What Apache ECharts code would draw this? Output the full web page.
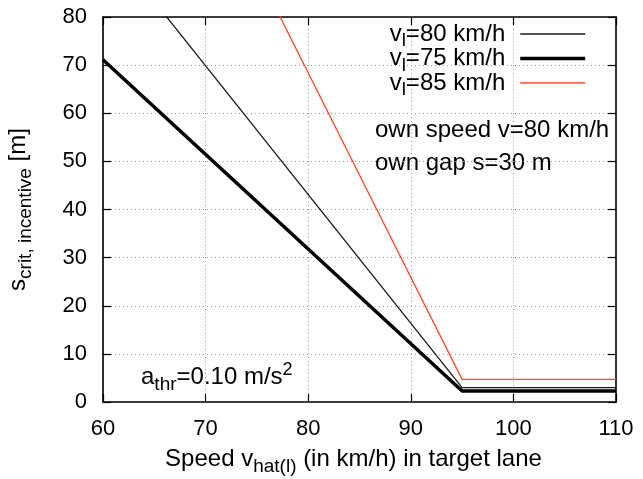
<!DOCTYPE html>
<html>
<head>
<meta charset="utf-8">
<script src="https://cdn.jsdelivr.net/npm/echarts@6/dist/echarts.min.js"></script>
<style>
  html, body { margin: 0; padding: 0; background: #fff; }
  #chart { width: 643px; height: 479px; }
</style>
</head>
<body>
<div id="chart"></div>
<script>
// Speed of the leader in the target lane (km/h), one curve each
const leaderSpeeds = [80, 75, 85];
// Target-lane speed samples (km/h): start, kink, end
const targetSpeeds = [60, 95, 110];
// Critical incentive gap (m) at those speeds
const gap80 = [96.6, 3.0, 3.0];
const gap75 = [71.1, 2.3, 2.3];
const gap85 = [153.3, 4.7, 4.7];
// Axis ticks
const xTicks = [60, 70, 80, 90, 100, 110];
const yTicks = [0, 10, 20, 30, 40, 50, 60, 70, 80];

const FONT = 'Liberation Sans';
const rich = {
  m: { fontFamily: FONT, fontSize: 24, color: '#000' },
  s: { fontFamily: FONT, fontSize: 19, color: '#000', padding: [14, 0, 0, 0] },
  u: { fontFamily: FONT, fontSize: 18, color: '#000', padding: [0, 0, 15, 0] }
};

const pairs = ys => targetSpeeds.map((x, i) => [x, ys[i]]);
const seriesData = [gap80, gap75, gap85];
const lineStyles = [
  { color: '#1a1a1a', width: 1.3 },
  { color: '#000000', width: 3.5 },
  { color: '#f4502a', width: 1.3 }
];

const chart = echarts.init(document.getElementById('chart'), null, { renderer: 'canvas' });

const tickStyle = { show: true, inside: true, length: 8, lineStyle: { color: '#000', width: 1.2 } };
const frameLine = { show: true, onZero: false, lineStyle: { color: '#000', width: 1.6 } };
const gridLine = { show: true, lineStyle: { color: '#9a9a9a', width: 1, type: [1, 3] } };

chart.setOption({
  animation: false,
  backgroundColor: '#fff',
  grid: { left: 103, right: 27, top: 17, bottom: 77, containLabel: false, outerBoundsMode: 'none' },
  xAxis: [
    {
      type: 'value', min: xTicks[0], max: xTicks[xTicks.length - 1], interval: 10,
      position: 'bottom',
      axisLine: frameLine, axisTick: tickStyle, splitLine: gridLine,
      axisLabel: { color: '#000', fontFamily: FONT, fontSize: 22, margin: 16 },
      name: '{m|Speed v}{s|hat(l)}{m| (in km/h) in target lane}',
      nameLocation: 'middle', nameGap: 41,
      nameTextStyle: { rich: rich, padding: [0, 12, 0, 0] }
    },
    {
      type: 'value', min: xTicks[0], max: xTicks[xTicks.length - 1], interval: 10,
      position: 'top',
      axisLine: frameLine, axisTick: tickStyle, splitLine: { show: false },
      axisLabel: { show: false }
    }
  ],
  yAxis: [
    {
      type: 'value', min: yTicks[0], max: yTicks[yTicks.length - 1], interval: 10,
      position: 'left',
      axisLine: frameLine, axisTick: tickStyle, splitLine: gridLine,
      axisLabel: { color: '#000', fontFamily: FONT, fontSize: 22, margin: 16 },
      name: '{m|s}{s|crit, incentive}{m| [m]}',
      nameLocation: 'middle', nameGap: 68,
      nameTextStyle: { rich: rich }
    },
    {
      type: 'value', min: yTicks[0], max: yTicks[yTicks.length - 1], interval: 10,
      position: 'right',
      axisLine: frameLine, axisTick: tickStyle, splitLine: { show: false },
      axisLabel: { show: false }
    }
  ],
  legend: {
    orient: 'vertical',
    right: 51, top: 17,
    align: 'right',
    itemWidth: 65, itemHeight: 14, itemGap: -4,
    selectedMode: false,
    formatter: name => {
      const v = name.split('=')[1];
      return '{m|v}{s|l}{m|=' + v + '}';
    },
    textStyle: { rich: rich, padding: [0, 10, 0, 0] },
    data: leaderSpeeds.map((v, i) => ({
      name: 'vl=' + v + ' km/h',
      itemStyle: { opacity: 0 },
      lineStyle: { color: lineStyles[i].color, width: lineStyles[i].width }
    }))
  },
  graphic: [
    {
      type: 'text', left: 375, top: 118,
      style: { text: 'own speed v=80 km/h', font: '24px ' + FONT, fill: '#000' }
    },
    {
      type: 'text', left: 375, top: 151,
      style: { text: 'own gap s=30 m', font: '24px ' + FONT, fill: '#000' }
    },
    {
      type: 'text', left: 141, top: 361,
      style: { text: '{m|a}{s|thr}{m|=0.10 m/s}{u|2}', rich: rich }
    }
  ],
  series: leaderSpeeds.map((v, i) => ({
    name: 'vl=' + v + ' km/h',
    type: 'line',
    xAxisIndex: 0, yAxisIndex: 0,
    data: pairs(seriesData[i]),
    symbol: 'none',
    clip: true,
    color: lineStyles[i].color,
    lineStyle: lineStyles[i],
    z: i === 1 ? 3 : 2
  }))
});
</script>
</body>
</html>
